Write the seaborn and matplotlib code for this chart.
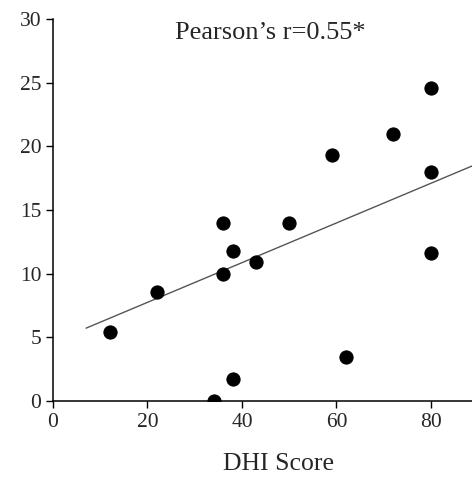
import matplotlib
matplotlib.use('Agg')
import matplotlib.pyplot as plt
import seaborn as sns
import pandas as pd

# ------------------ DATA ------------------
dhi_score = [12, 22, 36, 38, 43, 36, 50, 59, 72, 80, 80, 80, 62, 38, 34]
y_value = [5.4, 8.6, 10.0, 11.8, 10.9, 14.0, 14.0, 19.3, 21.0, 24.6, 18.0, 11.6, 3.5, 1.7, 0.0]

# trend line endpoints as drawn in the reference
trend_x = [7, 88.7]
trend_y = [5.73, 18.46]

x_ticks = [0, 20, 40, 60, 80]
y_ticks = [0, 5, 10, 15, 20, 25, 30]

df = pd.DataFrame({'dhi': dhi_score, 'value': y_value})
trend_df = pd.DataFrame({'dhi': trend_x, 'value': trend_y})

# ------------------ PLOT ------------------
sns.set_style("ticks")
plt.rcParams['font.family'] = ['Liberation Serif', 'DejaVu Serif']

fig = plt.figure(figsize=(4.72, 4.88), dpi=100)
ax = fig.add_axes([0.1123, 0.178, 0.8877, 0.783])

sns.lineplot(data=trend_df, x='dhi', y='value', color='#555555', linewidth=1.0, ax=ax)
sns.scatterplot(data=df, x='dhi', y='value', color='black', s=90, edgecolor='black', ax=ax, zorder=3)

ax.set_xlim(0, 88.7)
ax.set_ylim(0, 30)
ax.set_xticks(x_ticks)
ax.set_yticks(y_ticks)
ax.tick_params(axis='both', labelsize=15.5, length=5, width=1, color='black', direction='out')
for side in ['left', 'bottom']:
    ax.spines[side].set_linewidth(1.1)
    ax.spines[side].set_color('black')
sns.despine(ax=ax)

ax.set_ylabel("")
ax.set_xlabel("DHI Score", fontsize=18.5)
ax.xaxis.set_label_coords(0.537, -0.135)

ax.text(0.518, 0.963, "Pearson\u2019s r=0.55*", transform=ax.transAxes,
        ha='center', va='center', fontsize=19)
ax.set_clip_on(False)

plt.savefig("out.png", dpi=100)
